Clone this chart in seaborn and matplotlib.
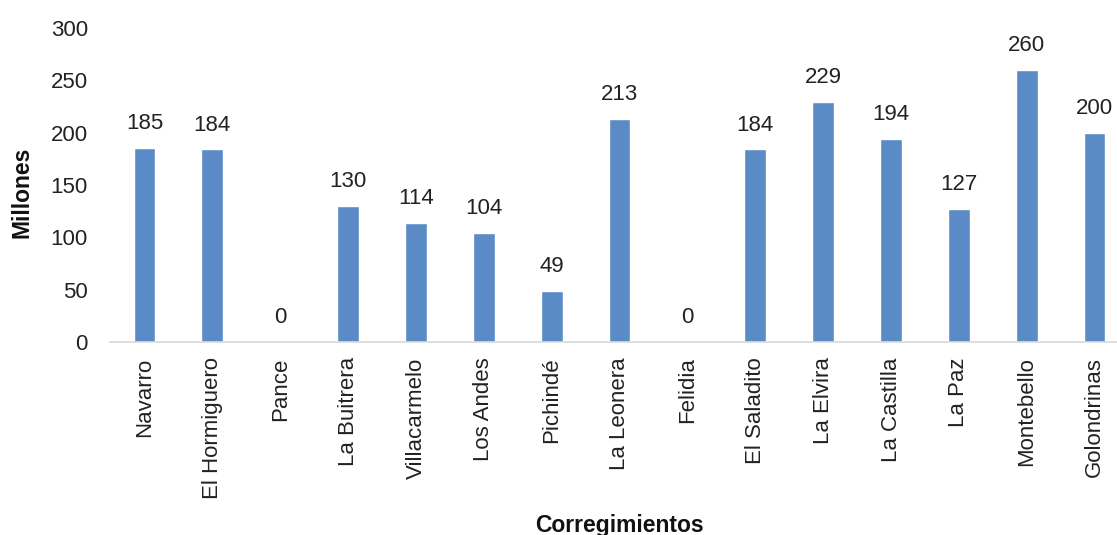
import matplotlib
matplotlib.use("Agg")
import matplotlib.pyplot as plt
import seaborn as sns
import pandas as pd

categories = ["Navarro", "El Hormiguero", "Pance", "La Buitrera", "Villacarmelo",
              "Los Andes", "Pichindé", "La Leonera", "Felidia", "El Saladito",
              "La Elvira", "La Castilla", "La Paz", "Montebello", "Golondrinas"]
values = [185, 184, 0, 130, 114, 104, 49, 213, 0, 184, 229, 194, 127, 260, 200]
yticks = [0, 50, 100, 150, 200, 250, 300]

sns.set_theme(style="white")
plt.rcParams['font.family'] = ['Liberation Sans', 'DejaVu Sans']

df = pd.DataFrame({"Corregimiento": categories, "Millones": values})

fig = plt.figure(figsize=(11.17, 5.35), dpi=100)
ax = fig.add_axes([110/1117, 1 - 342/535, 1 - 110/1117, (342 - 28)/535])

sns.barplot(data=df, x="Corregimiento", y="Millones", color="#5b8bc6",
            saturation=1, width=0.32, ax=ax)

for i, v in enumerate(values):
    ax.annotate(str(v), (i, v), xytext=(0, 10), textcoords="offset points",
                ha="center", va="bottom", fontsize=16, color="#222222")

ax.set_ylim(0, 300)
ax.set_xlim(-0.508, 14.33)
ax.set_yticks(yticks)
ax.set_yticklabels([str(t) for t in yticks])
ax.tick_params(axis="y", length=0, pad=16, labelsize=16, labelcolor="#222222")
ax.tick_params(axis="x", length=0, pad=11, labelsize=16, labelcolor="#222222")
plt.setp(ax.get_xticklabels(), rotation=90, ha="center", va="top")

for s in ["top", "right", "left"]:
    ax.spines[s].set_visible(False)
ax.spines["bottom"].set_color("#d9d9d9")
ax.spines["bottom"].set_linewidth(1.2)

ax.set_xlabel("")
ax.set_ylabel("")
fig.text(22/1117, 1 - 192/535, "Millones", rotation=90, ha="center", va="center",
         fontsize=16.5, fontweight="bold", color="#111111")
fig.text(619/1117, 1 - 532/535, "Corregimientos", ha="center", va="baseline",
         fontsize=16.5, fontweight="bold", color="#111111")

fig.savefig("out.png", dpi=100)
